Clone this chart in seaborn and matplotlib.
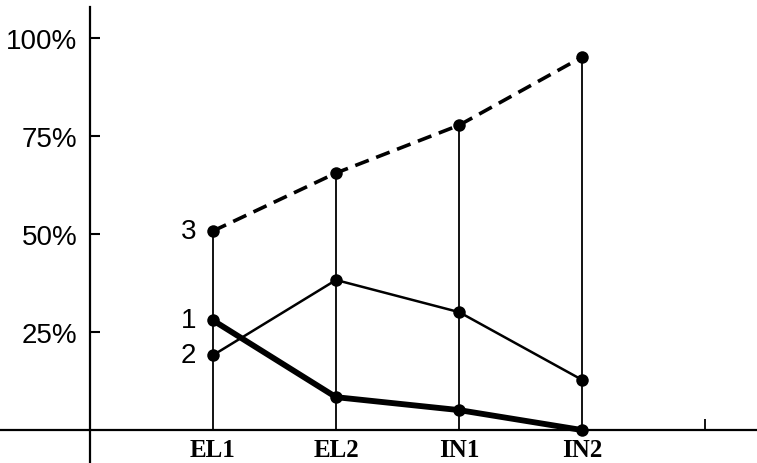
import matplotlib
matplotlib.use("Agg")
import matplotlib.pyplot as plt
import seaborn as sns
import pandas as pd

categories = ["EL1", "EL2", "IN1", "IN2"]
series_1 = [28, 8.4, 5.1, 0]
series_2 = [19.1, 38.3, 30.1, 12.8]
series_3 = [50.8, 65.6, 77.8, 95.2]
y_ticks = [25, 50, 75, 100]
y_tick_labels = ["25%", "50%", "75%", "100%"]
series_names = ["1", "2", "3"]

sns.set_style("white")
plt.rcParams["font.family"] = ["Liberation Sans", "DejaVu Sans"]
plt.rcParams["text.color"] = "black"

positions = list(range(1, len(categories) + 1))
df = pd.DataFrame({
    "pos": positions * 3,
    "value": series_1 + series_2 + series_3,
    "series": [n for n in series_names for _ in positions],
})

fig = plt.figure(figsize=(7.57, 4.64), dpi=100)
ax = fig.add_axes([0, 0, 1, 1])

# drop lines from the baseline up to the top series
ax.vlines(positions, 0, series_3, color="black", lw=1.3, zorder=1)

styles = {"1": dict(lw=4.2, ls="-"), "2": dict(lw=1.8, ls="-"), "3": dict(lw=2.6, ls=(0, (4, 2.2)))}
for name in series_names:
    sub = df[df["series"] == name]
    sns.lineplot(data=sub, x="pos", y="value", ax=ax, color="black",
                 lw=styles[name]["lw"], ls=styles[name]["ls"],
                 marker="o", markersize=9, markeredgewidth=0, zorder=3, legend=False)

# series numbers to the left of the first points
for name, vals in zip(series_names, [series_1, series_2, series_3]):
    ax.annotate(name, (positions[0], vals[0]), xytext=(-12, 0), textcoords="offset points",
                ha="right", va="center", fontsize=20, color="black")

ax.set_xlim(-0.73, 5.42)
ax.set_ylim(-8.4, 110)

ax.spines["left"].set_position(("data", 0))
ax.spines["bottom"].set_position(("data", 0))
ax.spines["left"].set_bounds(-8.4, 108)
ax.spines["top"].set_visible(False)
ax.spines["right"].set_visible(False)
for s in ("left", "bottom"):
    ax.spines[s].set_linewidth(1.6)
    ax.spines[s].set_color("black")

ax.set_yticks(y_ticks)
ax.set_yticklabels(y_tick_labels, fontsize=20)
ax.tick_params(axis="y", left=True, direction="in", length=7, width=1.5, pad=9,
               colors="black", labelcolor="black")

ax.set_xticks(positions)
ax.set_xticklabels(categories, fontsize=18, fontweight="bold", family="Liberation Serif")
ax.tick_params(axis="x", which="major", bottom=True, length=0, pad=6, labelcolor="black")
ax.set_xticks([5], minor=True)
ax.tick_params(axis="x", which="minor", bottom=True, direction="in", length=8, width=1.3,
               colors="black")

ax.set_xlabel("")
ax.set_ylabel("")

fig.savefig("out.png", dpi=100)
